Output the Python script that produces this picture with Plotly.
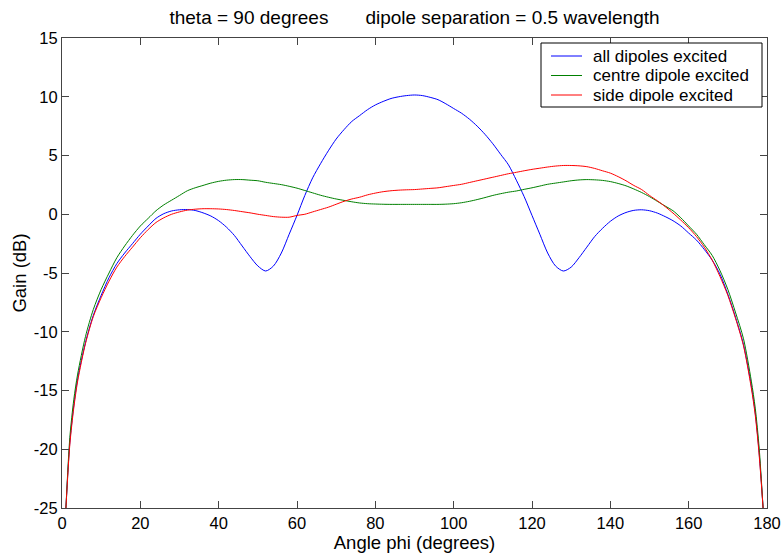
import plotly.graph_objects as go

phi = [1, 2, 3, 4, 6, 8, 10, 12, 14, 16, 18, 20, 22, 24, 26, 28, 30, 32, 34, 36, 38, 40,
       42, 44, 46, 48, 50, 52, 54, 56, 58, 60, 62, 64, 66, 68, 70, 72, 74, 76, 78, 80,
       82, 84, 86, 88, 90, 92, 94, 96, 98, 100, 102, 104, 106, 108, 110, 112, 114, 116, 118, 120,
       122, 124, 126, 128, 130, 132, 134, 136, 138, 140, 142, 144, 146, 148, 150, 152, 154, 156, 158, 160,
       162, 164, 166, 168, 170, 172, 174, 176, 177, 178, 179]

all_dipoles = [-25.0, -19.4, -16.3, -14.0, -10.9, -8.6, -6.9, -5.4, -4.2, -3.3, -2.5, -1.7, -1.0, -0.35, 0.05, 0.28, 0.38, 0.4, 0.32, 0.12, -0.15, -0.55,
               -1.1, -1.8, -2.7, -3.6, -4.4, -4.83, -4.4, -3.3, -1.7, -0.1, 1.6, 3.1, 4.3, 5.4, 6.4, 7.2, 7.9, 8.4, 8.9, 9.3,
               9.6, 9.85, 10.0, 10.1, 10.15, 10.1, 9.95, 9.75, 9.4, 9.0, 8.6, 8.1, 7.5, 6.8, 6.0, 5.1, 4.2, 2.9, 1.5, -0.1,
               -1.7, -3.3, -4.4, -4.83, -4.5, -3.7, -2.8, -1.9, -1.2, -0.6, -0.15, 0.15, 0.33, 0.38, 0.3, 0.1, -0.2, -0.55, -1.0, -1.6,
               -2.2, -3.0, -3.9, -5.1, -6.8, -8.8, -11.1, -14.6, -16.9, -20.3, -25.0]

centre_dipole = [-25.0, -19.0, -15.8, -13.6, -10.4, -8.1, -6.4, -5.0, -3.7, -2.7, -1.8, -1.0, -0.35, 0.3, 0.8, 1.2, 1.6, 2.0, 2.25, 2.45, 2.65, 2.8,
                 2.9, 2.95, 2.95, 2.9, 2.85, 2.72, 2.62, 2.52, 2.38, 2.22, 2.02, 1.82, 1.62, 1.45, 1.3, 1.18, 1.06, 0.96, 0.9, 0.87,
                 0.85, 0.84, 0.84, 0.84, 0.84, 0.84, 0.84, 0.84, 0.86, 0.9, 0.98, 1.1, 1.25, 1.42, 1.6, 1.75, 1.88, 1.98, 2.12, 2.25,
                 2.4, 2.55, 2.65, 2.75, 2.85, 2.92, 2.95, 2.93, 2.88, 2.78, 2.62, 2.42, 2.15, 1.85, 1.5, 1.1, 0.7, 0.3, -0.3, -1.0,
                 -1.7, -2.6, -3.5, -4.8, -6.4, -8.4, -10.6, -14.2, -16.5, -19.9, -25.0]

side_dipole = [-25.0, -19.6, -16.5, -14.2, -11.0, -8.7, -7.1, -5.7, -4.5, -3.6, -2.8, -2.0, -1.3, -0.7, -0.3, 0.0, 0.2, 0.35, 0.43, 0.47, 0.47, 0.45,
               0.4, 0.32, 0.22, 0.12, 0.0, -0.1, -0.2, -0.25, -0.25, -0.1, 0.0, 0.2, 0.4, 0.6, 0.85, 1.1, 1.3, 1.45, 1.65, 1.8,
               1.92, 2.0, 2.05, 2.08, 2.1, 2.15, 2.2, 2.25, 2.35, 2.45, 2.55, 2.7, 2.85, 3.0, 3.15, 3.3, 3.45, 3.57, 3.7, 3.82,
               3.92, 4.02, 4.1, 4.15, 4.15, 4.12, 4.05, 3.9, 3.7, 3.5, 3.2, 2.85, 2.45, 2.1, 1.6, 1.15, 0.65, 0.1, -0.5, -1.15,
               -1.9, -2.8, -3.9, -5.3, -6.9, -8.9, -11.2, -14.8, -17.1, -20.5, -25.0]

series_names = ["all dipoles excited", "centre dipole excited", "side dipole excited"]
series_colors = ["#0000ff", "#008000", "#ff0000"]

x_ticks = [0, 20, 40, 60, 80, 100, 120, 140, 160, 180]
x_ticktext = ["0", "20", "40", "60", "80", "100", "120", "140", "160", "180"]
y_ticks = [-25, -20, -15, -10, -5, 0, 5, 10, 15]
y_ticktext = ["-25", "-20", "-15", "-10", "-5", "0", "5", "10", "15"]

title_text = "theta = 90 degrees" + "\u00a0" * 7 + "dipole separation = 0.5 wavelength"

# layout geometry (pixels)
W, H = 783, 556
ML, MR, MT, MB = 62, 16, 38, 48
PW, PH = W - ML - MR, H - MT - MB


def px2paper_x(px):
    return (px - ML) / PW


def px2paper_y(py):
    return (H - MB - py) / PH


fig = go.Figure()
for name, ys, col in zip(series_names, [all_dipoles, centre_dipole, side_dipole], series_colors):
    fig.add_trace(go.Scatter(x=phi, y=ys, mode="lines", name=name, showlegend=False,
                             line=dict(color=col, width=1, shape="spline", smoothing=0.8)))

font_family = "Liberation Sans, Arial, sans-serif"
axis_common = dict(showgrid=False, zeroline=False, showline=True, linecolor="#444444", linewidth=1,
                   mirror="ticks", ticks="inside", ticklen=7, tickcolor="#444444", automargin=False,
                   tickfont=dict(family=font_family, size=16.5, color="black"))

# manual legend (MATLAB style box)
shapes = [dict(type="rect", xref="paper", yref="paper",
               x0=px2paper_x(541), x1=px2paper_x(762), y0=px2paper_y(107), y1=px2paper_y(43),
               line=dict(color="black", width=1), fillcolor="white", layer="above")]
annotations = []
entry_y = [56, 75.5, 95]
for name, col, ey in zip(series_names, series_colors, entry_y):
    shapes.append(dict(type="line", xref="paper", yref="paper",
                       x0=px2paper_x(551), x1=px2paper_x(582), y0=px2paper_y(ey), y1=px2paper_y(ey),
                       line=dict(color=col, width=1), layer="above"))
    annotations.append(dict(text=name, xref="paper", yref="paper", x=px2paper_x(591), y=px2paper_y(ey),
                            xanchor="left", yanchor="middle", showarrow=False,
                            font=dict(family=font_family, size=17, color="black")))

fig.update_layout(
    width=W, height=H,
    margin=dict(l=ML, r=MR, t=MT, b=MB, autoexpand=False),
    paper_bgcolor="white", plot_bgcolor="white",
    font=dict(family=font_family, color="black"),
    title=dict(text=title_text, x=0.5, xref="paper", xanchor="center",
               y=1 - 17 / H, yref="container", yanchor="middle",
               font=dict(family=font_family, size=19, color="black")),
    xaxis=dict(range=[0, 180], tickvals=x_ticks, ticktext=x_ticktext,
               title=dict(text="Angle phi (degrees)", font=dict(size=18.5), standoff=0),
               **axis_common),
    yaxis=dict(range=[-25, 15], tickvals=y_ticks, ticktext=y_ticktext,
               title=dict(text="Gain (dB)", font=dict(size=18.5), standoff=2),
               **axis_common),
    shapes=shapes,
    annotations=annotations,
    showlegend=False,
)

fig.write_html("out.html", config={"displayModeBar": False},
               post_script="document.body.style.margin='0';document.body.style.overflow='hidden';")
